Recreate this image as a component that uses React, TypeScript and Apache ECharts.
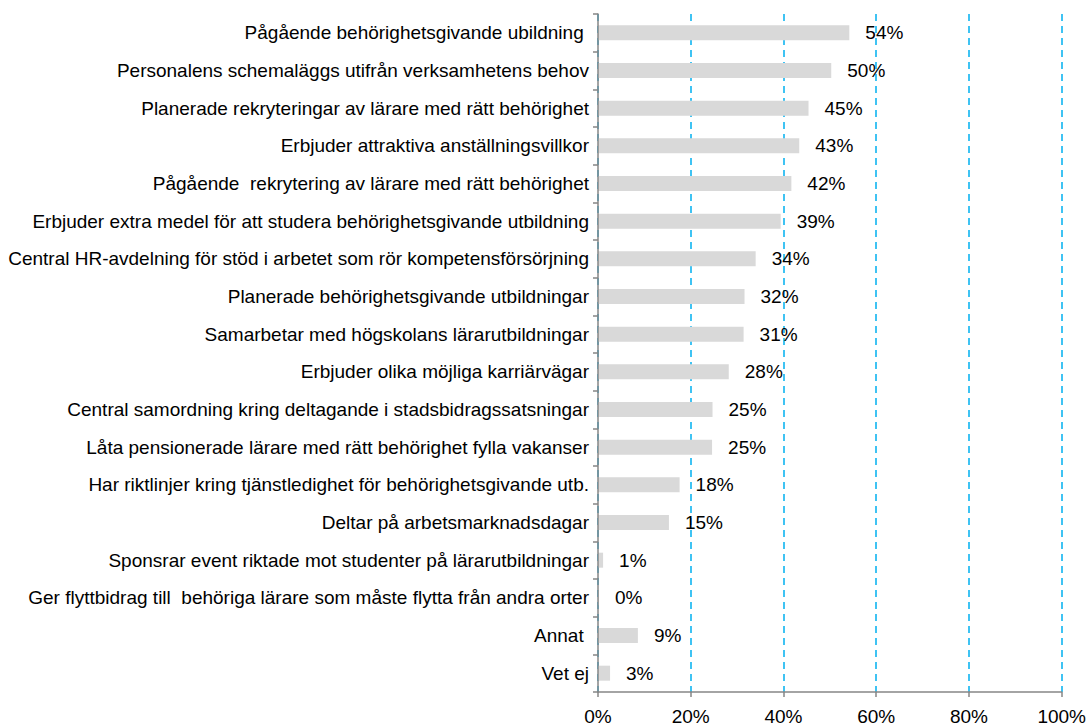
import React, { useEffect, useRef } from "react";
import * as echarts from "echarts";

const categories = [
  "Pågående behörighetsgivande ubildning ",
  "Personalens schemaläggs utifrån verksamhetens behov",
  "Planerade rekryteringar av lärare med rätt behörighet",
  "Erbjuder attraktiva anställningsvillkor",
  "Pågående  rekrytering av lärare med rätt behörighet",
  "Erbjuder extra medel för att studera behörighetsgivande utbildning",
  "Central HR-avdelning för stöd i arbetet som rör kompetensförsörjning",
  "Planerade behörighetsgivande utbildningar",
  "Samarbetar med högskolans lärarutbildningar",
  "Erbjuder olika möjliga karriärvägar",
  "Central samordning kring deltagande i stadsbidragssatsningar",
  "Låta pensionerade lärare med rätt behörighet fylla vakanser",
  "Har riktlinjer kring tjänstledighet för behörighetsgivande utb.",
  "Deltar på arbetsmarknadsdagar",
  "Sponsrar event riktade mot studenter på lärarutbildningar",
  "Ger flyttbidrag till  behöriga lärare som måste flytta från andra orter",
  "Annat ",
  "Vet ej",
];

const values = [54.2, 50.3, 45.4, 43.4, 41.7, 39.4, 34.0, 31.6, 31.4, 28.2, 24.7, 24.6, 17.6, 15.3, 1.1, 0.2, 8.6, 2.6];

const FONT = "Liberation Sans, Arial, sans-serif";
const FS = 19;

export default function App() {
  const ref = useRef<HTMLDivElement>(null);
  useEffect(() => {
    if (!ref.current) return;
    const chart = echarts.init(ref.current, null, { renderer: "svg" });
    chart.setOption({
      animation: false,
      backgroundColor: "#ffffff",
      grid: { left: 598, right: 26, top: 14, bottom: 31, containLabel: false },
      xAxis: {
        type: "value",
        min: 0,
        max: 100,
        interval: 20,
        axisLine: { show: true, lineStyle: { color: "#868686", width: 1.5 } },
        axisTick: { show: true, length: 5, lineStyle: { color: "#868686", width: 1.5 } },
        axisLabel: {
          formatter: (v: number) => v + "%",
          color: "#000",
          fontFamily: FONT,
          fontSize: FS,
          margin: 15,
        },
        splitLine: { show: true, lineStyle: { color: "#00B0F0", width: 1.5, type: [7, 5] } },
      },
      yAxis: {
        type: "category",
        data: categories,
        inverse: true,
        z: 5,
        axisLine: { show: true, lineStyle: { color: "#868686", width: 1.5 } },
        axisTick: { show: true, length: 5, lineStyle: { color: "#868686", width: 1.5 } },
        axisLabel: {
          color: "#000",
          fontFamily: FONT,
          fontSize: FS,
          margin: 9,
        },
        splitLine: { show: false },
      },
      series: [
        {
          type: "bar",
          data: values,
          barWidth: 15,
          itemStyle: { color: "#D9D9D9" },
          z: 3,
          label: {
            show: true,
            position: "right",
            distance: 16,
            formatter: (p: any) => Math.round(p.value) + "%",
            color: "#000",
            fontFamily: FONT,
            fontSize: FS,
          },
        },
      ],
    });
    return () => chart.dispose();
  }, []);
  return <div ref={ref} style={{ width: 1089, height: 726, position: "absolute", left: 0, top: 0 }} />;
}
